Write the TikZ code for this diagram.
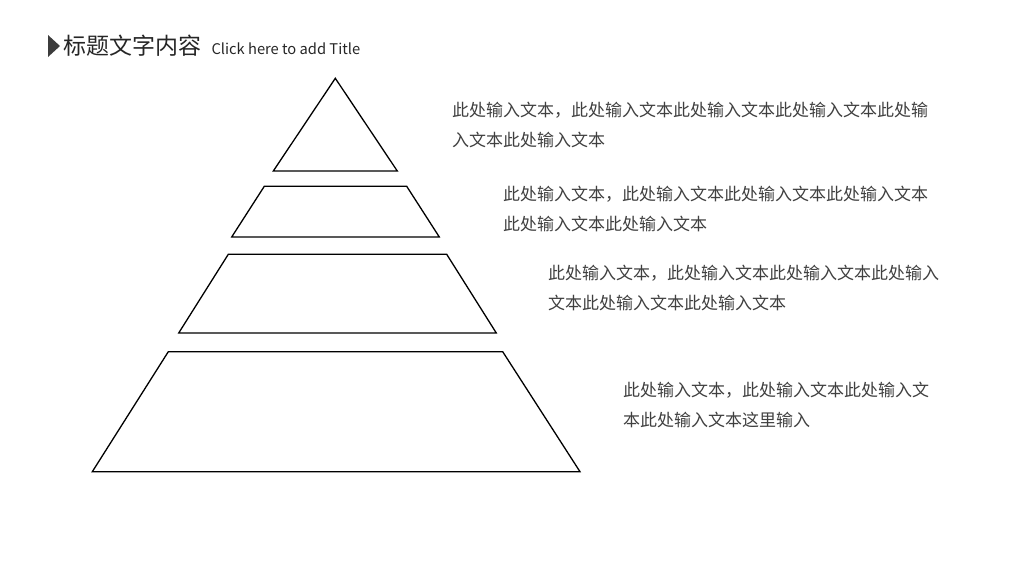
\documentclass[tikz,border=0pt]{standalone}
\usepackage{fontspec}
\setmainfont{Noto Sans CJK SC}
\usetikzlibrary{positioning}
\definecolor{txtgray}{HTML}{404040}
\definecolor{titlegray}{HTML}{262626}

\begin{document}
\begin{tikzpicture}[x=1pt, y=-1pt, layer/.style={draw=black, line width=1.3pt, line join=miter},
    desc/.style={anchor=west, align=left, inner sep=0pt, text=txtgray, font=\fontsize{17}{30.5}\selectfont}]
            \useasboundingbox (0,0) rectangle (1024,576);
            \fill[titlegray!90] (48,35) -- (60,46) -- (48,57) -- cycle;
            \node[anchor=west, inner sep=0pt, text=titlegray, font=\fontsize{23}{27}\selectfont] (title) at (63,46) {标题文字内容};
            \node[anchor=base west, inner sep=0pt, text=titlegray, font=\fontsize{14.7}{17}\selectfont] (subtitle) at ([xshift=10pt]title.base east) {Click here to add Title};
            \draw[layer] (335.3,78.3) -- (397.3,171) -- (273.3,171) -- cycle;
            \draw[layer] (264.3,186.3) -- (406.7,186.3) -- (439.3,237) -- (231.7,237) -- cycle;
            \draw[layer] (228.3,254.3) -- (446.7,254.3) -- (496.3,333) -- (178.7,333) -- cycle;
            \draw[layer] (168.3,351.7) -- (502.7,351.7) -- (580,471.7) -- (92.3,471.7) -- cycle;
            \node[desc] (t1) at (452,125) {此处输入文本，此处输入文本此处输入文本此处输入文本此处输\\入文本此处输入文本};
            \node[desc] (t2) at (503,209) {此处输入文本，此处输入文本此处输入文本此处输入文本\\此处输入文本此处输入文本};
            \node[desc] (t3) at (548,288) {此处输入文本，此处输入文本此处输入文本此处输入\\文本此处输入文本此处输入文本};
            \node[desc] (t4) at (623,405) {此处输入文本，此处输入文本此处输入文\\本此处输入文本这里输入};
        \end{tikzpicture}
\end{document}
